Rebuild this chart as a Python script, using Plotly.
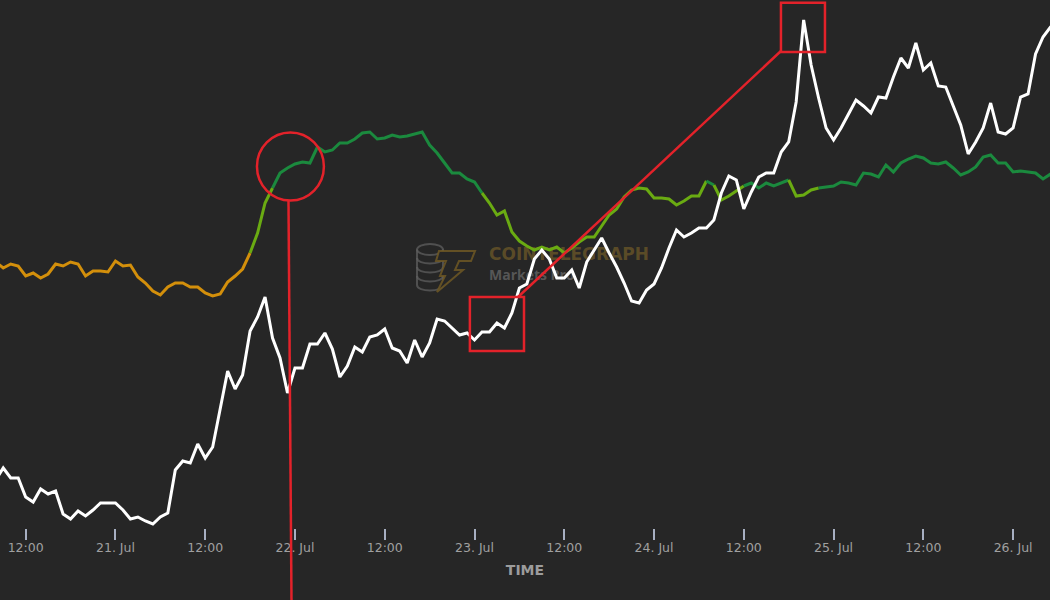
import plotly.graph_objects as go
import pandas as pd

# ---------------- data (hourly, chart units) ----------------
START = "2021-07-20 08:00"

price = [
    48, 60, 50, 50, 31, 26, 39, 34, 37, 14, 9, 17, 12, 18, 25, 25, 25, 18, 9, 11,
    7, 4, 11, 15, 58, 67, 65, 84, 70, 81, 120, 157, 139, 153, 197, 211, 231, 190, 170, 135,
    160, 160, 184, 184, 195, 179, 151, 162, 181, 176, 191, 193, 199, 180, 177, 165, 188, 171, 185, 209,
    207, 200, 193, 195, 188, 196, 196, 205, 200, 215, 240, 244, 269, 278, 269, 250, 250, 258, 240, 266,
    278, 290, 275, 261, 245, 227, 225, 238, 244, 260, 280, 298, 291, 295, 300, 300, 308, 335, 352, 348,
    319, 336, 351, 355, 355, 376, 386, 426, 508, 463, 430, 400, 388, 400, 414, 428, 422, 415, 431, 430,
    451, 470, 460, 485, 458, 465, 442, 441, 422, 403, 374, 386, 400, 425, 396, 394, 400, 431, 434, 474,
    491, 501, 508,
]

sentiment = [
    266, 260, 264, 262, 252, 255, 250, 254, 264, 262, 266, 264, 252, 257, 257, 256, 267, 262, 263, 251,
    245, 237, 233, 241, 245, 245, 241, 241, 235, 232, 234, 246, 252, 259, 275, 295, 325, 340, 355, 360,
    364, 366, 365, 381, 376, 378, 385, 385, 389, 395, 396, 389, 390, 393, 391, 392, 394, 396, 383, 375,
    365, 355, 355, 349, 346, 335, 325, 313, 317, 296, 287, 282, 278, 281, 278, 281, 275, 280, 286, 291,
    291, 302, 313, 319, 331, 338, 340, 339, 330, 330, 329, 323, 327, 332, 332, 347, 343, 328, 332, 337,
    342, 345, 340, 345, 342, 345, 348, 332, 333, 338, 340, 341, 342, 346, 345, 343, 355, 354, 351, 363,
    356, 365, 369, 372, 370, 365, 364, 366, 360, 353, 356, 361, 371, 373, 365, 365, 356, 357, 356, 355,
    349, 354, 350,
]

TICK_VALS = ["2021-07-20 12:00", "2021-07-21 00:00", "2021-07-21 12:00", "2021-07-22 00:00",
             "2021-07-22 12:00", "2021-07-23 00:00", "2021-07-23 12:00", "2021-07-24 00:00",
             "2021-07-24 12:00", "2021-07-25 00:00", "2021-07-25 12:00", "2021-07-26 00:00"]
TICK_TEXT = ["12:00", "21. Jul", "12:00", "22. Jul", "12:00", "23. Jul",
             "12:00", "24. Jul", "12:00", "25. Jul", "12:00", "26. Jul"]

X_RANGE = ["2021-07-20 08:34", "2021-07-26 04:56"]
Y_RANGE = [0, 528]

# sentiment colour bands
NEUTRAL_MAX = 275
BULLISH_MIN = 340
ORANGE = "#d38f0b"
LIGHT_GREEN = "#6aab12"
GREEN = "#1b8a3e"

BG = "#262626"
RED = "#e3222a"

times = pd.date_range(START, periods=len(price), freq="h")


def band(a, b):
    m = (a + b) / 2
    if m < NEUTRAL_MAX:
        return ORANGE
    if m <= BULLISH_MIN:
        return LIGHT_GREEN
    return GREEN


fig = go.Figure()

# ---------------- watermark (drawn below data) ----------------
W, PH = 1050, 528


def px(x):
    return x / W


def py(y):
    return (PH - y) / PH


shapes = []
COIN = "rgba(95,95,95,0.75)"
GOLD = "rgba(110,88,36,0.85)"
# coin stack
shapes.append(dict(type="circle", xref="paper", yref="paper", layer="below",
                   x0=px(417), x1=px(443), y0=py(255), y1=py(244),
                   line=dict(color=COIN, width=2)))
for yy in [258, 267, 276, 285]:
    path = (f"M {px(417)},{py(yy)} C {px(417)},{py(yy + 7.3)} {px(443)},{py(yy + 7.3)} {px(443)},{py(yy)}")
    shapes.append(dict(type="path", xref="paper", yref="paper", layer="below", path=path,
                       line=dict(color=COIN, width=2)))
for xx in [417, 443]:
    shapes.append(dict(type="line", xref="paper", yref="paper", layer="below",
                       x0=px(xx), x1=px(xx), y0=py(249.5), y1=py(285),
                       line=dict(color=COIN, width=2)))
# T bolt
T_PTS = [(439, 251), (475, 251), (471, 261), (459, 261), (455, 270), (463, 270),
         (437, 292), (445, 276), (440, 276), (446, 261), (436, 261)]
tpath = "M " + " L ".join(f"{px(a)},{py(b)}" for a, b in T_PTS) + " Z"
shapes.append(dict(type="path", xref="paper", yref="paper", layer="below", path=tpath,
                   fillcolor=BG, line=dict(color=GOLD, width=2)))

fig.add_trace(go.Scatter(
    x=[pd.Timestamp("2021-07-23 01:56")], y=[272], mode="text", text=["COINTELEGRAPH"],
    textposition="middle right", hoverinfo="skip",
    textfont=dict(family="DejaVu Sans", size=17, color="rgba(115,92,40,0.7)", weight=700)))
fig.add_trace(go.Scatter(
    x=[pd.Timestamp("2021-07-23 01:56")], y=[252], mode="text", text=["Markets Pro"],
    textposition="middle right", hoverinfo="skip",
    textfont=dict(family="Open Sans", size=14, color="rgba(100,100,100,0.8)", weight=700)))

# ---------------- sentiment line, coloured by band ----------------
n = len(sentiment)
runs = []
start = 0
cur = band(sentiment[0], sentiment[1])
for i in range(1, n - 1):
    c = band(sentiment[i], sentiment[i + 1])
    if c != cur:
        runs.append((start, i, cur))
        start, cur = i, c
runs.append((start, n - 1, cur))
for a, b, c in runs:
    fig.add_trace(go.Scatter(x=times[a:b + 1], y=sentiment[a:b + 1], mode="lines",
                             line=dict(color=c, width=3), hoverinfo="skip"))

# ---------------- price line ----------------
fig.add_trace(go.Scatter(x=times, y=price, mode="lines",
                         line=dict(color="#ffffff", width=3), hoverinfo="skip"))

# ---------------- red annotations ----------------
RL = dict(color=RED, width=2.5)
shapes += [
    dict(type="circle", xref="x", yref="y", layer="above",
         x0="2021-07-21 18:55", x1="2021-07-22 03:52", y0=327.5, y1=395.5, line=RL),
    dict(type="line", xref="x", yref="paper", layer="above",
         x0="2021-07-21 23:08", x1="2021-07-21 23:32", y0=py(201), y1=-72 / PH, line=RL),
    dict(type="rect", xref="x", yref="y", layer="above",
         x0="2021-07-22 23:23", x1="2021-07-23 06:37", y0=177, y1=231, line=RL),
    dict(type="rect", xref="x", yref="y", layer="above",
         x0="2021-07-24 16:58", x1="2021-07-24 22:51", y0=476, y1=525.3, line=RL),
    dict(type="line", xref="x", yref="y", layer="above",
         x0="2021-07-23 05:49", x1="2021-07-24 16:58", y0=231, y1=477, line=RL),
]

fig.update_layout(
    width=1050, height=600,
    margin=dict(l=0, r=0, t=0, b=72),
    paper_bgcolor=BG, plot_bgcolor=BG,
    showlegend=False,
    shapes=shapes,
    xaxis=dict(type="date", range=X_RANGE, tickvals=TICK_VALS, ticktext=TICK_TEXT,
               ticks="outside", ticklen=11, tickwidth=1.5, tickcolor="#a7afc2",
               tickfont=dict(family="DejaVu Sans", size=12.5, color="#a0a0a0"),
               ticklabelstandoff=-3,
               showgrid=False, zeroline=False, showline=False, fixedrange=True,
               title=dict(text="TIME", standoff=11,
                          font=dict(family="DejaVu Sans", size=14, color="#9c9c9c", weight=700))),
    yaxis=dict(range=Y_RANGE, visible=False, showgrid=False, zeroline=False, fixedrange=True),
)

fig.write_html("out.html", config={"displayModeBar": False},
               post_script="document.body.style.margin='0';document.body.style.overflow='hidden';")
